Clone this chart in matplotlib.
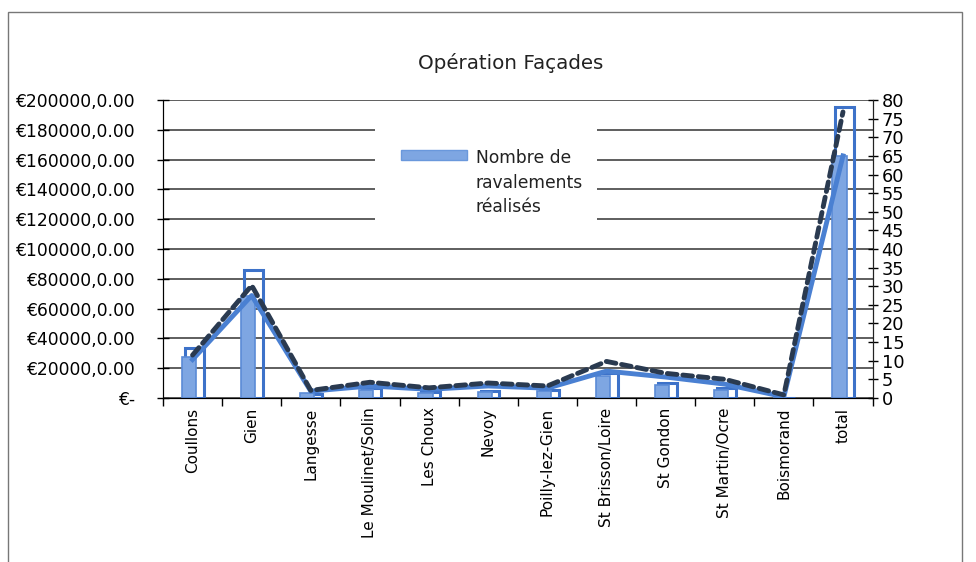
import matplotlib.pyplot as plt
import numpy as np
from matplotlib.patches import Rectangle

plt.rcParams['font.family'] = ['DejaVu Sans']

# Data
communes = ['Coullons', 'Gien', 'Langesse', 'Le Moulinet/Solin', 'Les Choux', 'Nevoy',
            'Poilly-lez-Gien', 'St Brisson/Loire', 'St Gondon', 'St Martin/Ocre',
            'Boismorand', 'total']
montant_travaux = [33500, 86000, 2500, 6500, 4000, 4700, 5400, 16500, 10000, 6500, 0, 195000]
nb_ravalements = [11, 27.5, 1.3, 2, 1.3, 1.5, 1.8, 5.8, 3.5, 2.2, 0, 65]
ligne_pleine = [10.3, 27.5, 1.8, 3.2, 2.3, 3.2, 2.6, 7.2, 5.6, 3.7, 0.3, 65]
ligne_tirets = [11.5, 30.2, 2.0, 4.2, 2.7, 4.0, 3.2, 9.8, 6.6, 5.0, 0.8, 76.8]

euro_ticks = np.arange(0, 200001, 20000)
euro_labels = ['€-'] + ['€%d,0.00' % v for v in euro_ticks[1:]]
count_ticks = np.arange(0, 81, 5)

x = np.arange(len(communes))

fig = plt.figure(figsize=(9.76, 5.62), dpi=100)
ax = fig.add_axes([0.167, 0.292, 0.727, 0.530])
ax2 = ax.twinx()

# frame of the scanned chart area
fig.add_artist(Rectangle((0.008, -0.05), 0.978, 1.029, transform=fig.transFigure,
                         fill=False, edgecolor='#777777', lw=1))

# left axis: outlined bars
ax.bar(x + 0.03, montant_travaux, width=0.32, facecolor='none',
       edgecolor='#3d72c9', linewidth=2.2, zorder=3)
ax.set_ylim(0, 200000)
ax.set_yticks(euro_ticks)
ax.set_yticklabels(euro_labels, fontsize=12.3)
ax.yaxis.grid(True, color='#333333', linewidth=1.1)
ax.set_axisbelow(True)
ax.tick_params(axis='y', direction='inout', length=9, width=1, pad=15)

ax.set_xlim(-0.5, len(communes) - 0.5)
ax.set_xticks(x)
ax.set_xticklabels(communes, rotation=90, fontsize=11)
ax.set_xticks(np.arange(-0.5, len(communes)), minor=True)
ax.tick_params(axis='x', which='major', length=0, pad=7)
ax.tick_params(axis='x', which='minor', length=6, width=1, direction='out')

ax.spines['top'].set_visible(False)
ax2.spines['top'].set_visible(False)
ax.spines['left'].set_color('#222222')
ax.spines['bottom'].set_color('#222222')
ax2.spines['right'].set_color('#222222')

# right axis: filled bars and lines
ax2.bar(x - 0.06, nb_ravalements, width=0.24, color='#7ea6e2',
        edgecolor='#5b8bd6', linewidth=1.2, zorder=2)
ax2.plot(x, ligne_pleine, color='#4a80d2', linewidth=3.5, zorder=4,
         solid_joinstyle='round')
ax2.plot(x, ligne_tirets, color='#2a3a50', linewidth=3.5, zorder=5,
         linestyle=(0, (2.0, 1.2)), dash_capstyle='round')
ax2.set_ylim(0, 80)
ax2.set_yticks(count_ticks)
ax2.set_yticklabels([str(v) for v in count_ticks], fontsize=12.8)
ax2.tick_params(axis='y', direction='inout', length=7, width=1, pad=3)

# legend box (hides gridlines behind it)
ax2.add_patch(Rectangle((0.299, 0.545), 0.312, 0.41, transform=ax2.transAxes,
                        facecolor='white', edgecolor='none', zorder=6))
ax2.add_patch(Rectangle((0.336, 0.798), 0.092, 0.034, transform=ax2.transAxes,
                        facecolor='#7ea6e2', edgecolor='#6a98dc', zorder=7))
ax2.text(0.441, 0.834, 'Nombre de\nravalements\nréalisés', transform=ax2.transAxes,
         fontsize=12.3, va='top', ha='left', linespacing=1.45, zorder=7,
         color='#222222')

fig.text(0.523, 0.888, 'Opération Façades', ha='center', va='center', fontsize=14.3,
         color='#222222')

fig.savefig('out.png', dpi=100)
